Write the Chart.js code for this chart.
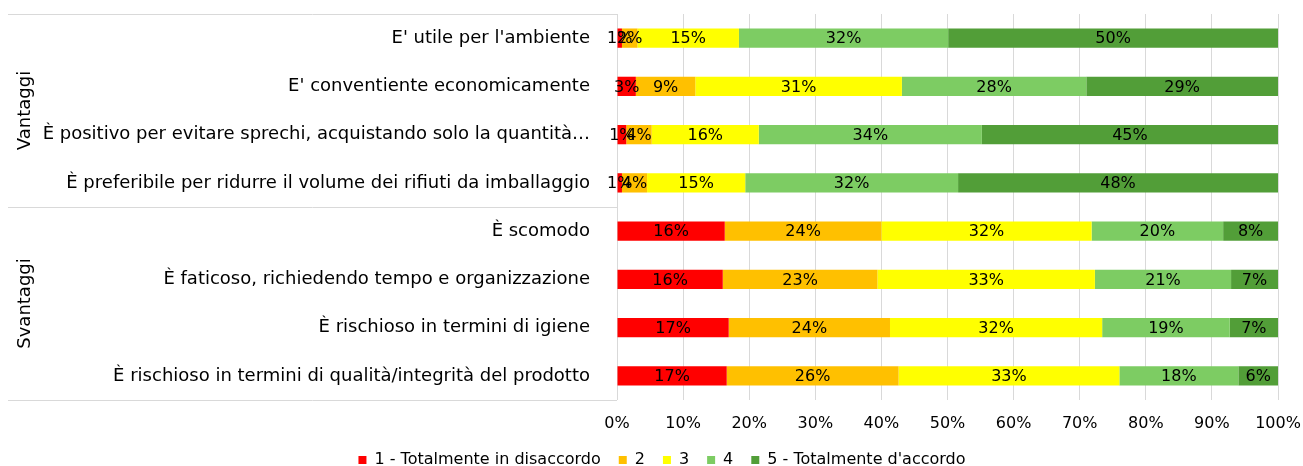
<!DOCTYPE html>
<html>
<head>
<meta charset="utf-8">
<script src="https://cdn.jsdelivr.net/npm/chart.js@4"></script>
<style>
  html, body { margin: 0; padding: 0; background: #fff; }
  #wrap { width: 1303px; height: 466px; position: relative; }
</style>
</head>
<body>
<div id="wrap"><canvas id="chart"></canvas></div>
<script>
const categories = [
  "E' utile per l'ambiente",
  "E' conventiente economicamente",
  "È positivo per evitare sprechi, acquistando solo la quantità…",
  "È preferibile per ridurre il volume dei rifiuti da imballaggio",
  "È scomodo",
  "È faticoso, richiedendo tempo e organizzazione",
  "È rischioso in termini di igiene",
  "È rischioso in termini di qualità/integrità del prodotto"
];
const groups = ["Vantaggi", "Svantaggi"];
const groupSizes = [4, 4];

const seriesNames = ["1 - Totalmente in disaccordo", "2", "3", "4", "5 - Totalmente d'accordo"];
const score1 = [0.75, 2.85, 1.4, 0.75, 16.3, 16.0, 16.9, 16.6];
const score2 = [2.35, 9.0, 3.85, 3.8, 23.7, 23.4, 24.4, 26.0];
const score3 = [15.35, 31.25, 16.2, 14.85, 31.8, 32.9, 32.1, 33.4];
const score4 = [31.65, 27.9, 33.75, 32.2, 19.9, 20.6, 19.3, 18.0];
const score5 = [49.9, 29.0, 44.8, 48.4, 8.3, 7.1, 7.3, 6.0];
const xTicks = [0, 10, 20, 30, 40, 50, 60, 70, 80, 90, 100];

const colors = ["#ff0000", "#ffc000", "#ffff00", "#7dcc63", "#529e38"];
const FONT = "'DejaVu Sans', sans-serif";
const GRID = "#d9d9d9";

const valueLabels = {
  id: "valueLabels",
  afterDatasetsDraw(chart) {
    const ctx = chart.ctx;
    ctx.save();
    ctx.font = "16px " + FONT;
    ctx.fillStyle = "#000";
    ctx.textAlign = "center";
    ctx.textBaseline = "middle";
    chart.data.datasets.forEach((ds, i) => {
      chart.getDatasetMeta(i).data.forEach((bar, j) => {
        const cx = (bar.x + bar.base) / 2;
        ctx.fillText(Math.round(ds.data[j]) + "%", cx, bar.y + 1);
      });
    });
    ctx.restore();
  }
};

const groupAxis = {
  id: "groupAxis",
  afterDraw(chart) {
    const ctx = chart.ctx;
    const area = chart.chartArea;
    const step = (area.bottom - area.top) / categories.length;
    ctx.save();
    ctx.strokeStyle = GRID;
    ctx.lineWidth = 1;
    let idx = 0;
    const lines = [area.top];
    groups.forEach((g, gi) => {
      const top = area.top + idx * step;
      idx += groupSizes[gi];
      const bottom = area.top + idx * step;
      lines.push(bottom);
      ctx.save();
      ctx.translate(25, (top + bottom) / 2);
      ctx.rotate(-Math.PI / 2);
      ctx.font = "18px " + FONT;
      ctx.fillStyle = "#000";
      ctx.textAlign = "center";
      ctx.textBaseline = "middle";
      ctx.fillText(g, 0, 0);
      ctx.restore();
    });
    lines.forEach(ly => {
      const yy = Math.round(ly) + 0.5;
      ctx.beginPath();
      ctx.moveTo(8, yy);
      ctx.lineTo(area.left, yy);
      ctx.stroke();
    });
    ctx.restore();
  }
};

// squeeze the legend to the bottom edge and nudge it right like the original
const legendFit = {
  id: "legendFit",
  beforeInit(chart) {
    if (!chart.legend) return;
    const fit = chart.legend.fit;
    chart.legend.fit = function () {
      fit.call(this);
      this.height = 32;
    };
  },
  afterLayout(chart) {
    if (!chart.legend) return;
    chart.legend.left += 23;
    chart.legend.right += 23;
  }
};

new Chart(document.getElementById("chart"), {
  type: "bar",
  data: {
    labels: categories,
    datasets: [score1, score2, score3, score4, score5].map((d, i) => ({
      label: seriesNames[i],
      data: d,
      backgroundColor: colors[i],
      borderWidth: 0,
      categoryPercentage: 1,
      barPercentage: 0.4
    }))
  },
  options: {
    indexAxis: "y",
    responsive: true,
    maintainAspectRatio: false,
    animation: false,
    layout: { padding: { left: 0, right: 25, top: 14, bottom: 0 } },
    scales: {
      x: {
        stacked: true,
        min: 0,
        max: 100,
        afterBuildTicks(scale) { scale.ticks = xTicks.map(v => ({ value: v })); },
        afterFit(scale) {
          scale.height = 34;
          scale.paddingLeft = 0;
          scale.paddingRight = 0;
        },
        ticks: {
          callback: v => v + "%",
          font: { family: FONT, size: 16 },
          color: "#000",
          padding: 14,
          maxRotation: 0
        },
        grid: { color: GRID, drawTicks: false },
        border: { display: false }
      },
      y: {
        stacked: true,
        afterFit(scale) {
          scale.width = 617;
          scale.paddingTop = 0;
          scale.paddingBottom = 0;
        },
        ticks: {
          font: { family: FONT, size: 18 },
          color: "#000",
          padding: 19,
          autoSkip: false
        },
        grid: { display: false },
        border: { display: false }
      }
    },
    plugins: {
      legend: {
        position: "bottom",
        labels: {
          font: { family: FONT, size: 16 },
          color: "#000",
          boxWidth: 8,
          boxHeight: 8,
          padding: 18
        }
      },
      tooltip: { enabled: false }
    }
  },
  plugins: [valueLabels, groupAxis, legendFit]
});
</script>
</body>
</html>
